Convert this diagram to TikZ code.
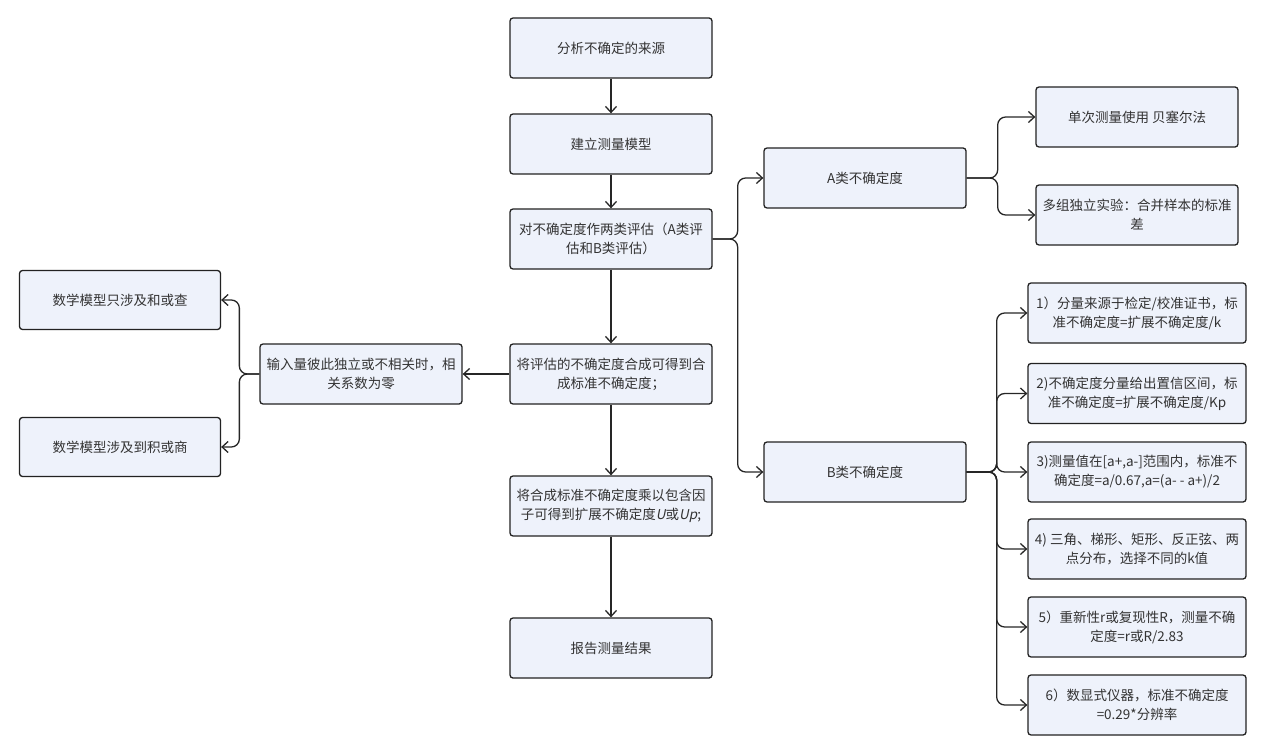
\documentclass[tikz,border=0pt]{standalone}
\usepackage{fontspec}
\setmainfont{Noto Sans CJK SC}
\newfontfamily\slantfont[FakeSlant=0.2]{Noto Sans CJK SC}
\usetikzlibrary{arrows.meta}
\definecolor{boxfill}{HTML}{EEF2FB}
\definecolor{boxline}{HTML}{222222}
\definecolor{textgray}{HTML}{333333}
\tikzset{
	stepbox/.style={draw=boxline,fill=boxfill,line width=1.3pt,rounded corners=3pt,minimum width=202pt,minimum height=60pt,align=center,text=textgray,font=\fontsize{13.5}{19}\selectfont,inner sep=2pt},
	link/.style={draw=black!85,line width=1.3pt,-{Straight Barb[length=6pt,width=11pt]}},
	branch/.style={link,rounded corners=8pt},
}
\begin{document}
\begin{tikzpicture}[x=1pt,y=-1pt]
	\useasboundingbox (0,0) rectangle (1265,754);

	% Draw main steps
	\node[stepbox] (s1) at (611,48) {分析不确定的来源};
	\node[stepbox] (s2) at (611,144) {建立测量模型};
	\node[stepbox] (s3) at (611,239) {对不确定度作两类评估（A类评\\估和B类评估）};
	\node[stepbox] (s4) at (611,374) {将评估的不确定度合成可得到合\\成标准不确定度；};
	\node[stepbox] (s5) at (611,506) {将合成标准不确定度乘以包含因\\子可得到扩展不确定度{\slantfont U}或{\slantfont Up};};
	\node[stepbox] (s6) at (611,648) {报告测量结果};

	% Draw left side
	\node[stepbox] (in) at (361,374) {输入量彼此独立或不相关时，相\\关系数为零};
	\node[stepbox,minimum width=201pt,minimum height=59pt] (l1) at (120,300) {数学模型只涉及和或查};
	\node[stepbox,minimum width=201pt,minimum height=59pt] (l2) at (120,447) {数学模型涉及到积或商};

	% Draw type A and type B
	\node[stepbox] (A) at (865,178) {A类不确定度};
	\node[stepbox] (B) at (865,472) {B类不确定度};
	\node[stepbox] (a1) at (1137,117) {单次测量使用 贝塞尔法};
	\node[stepbox] (a2) at (1137,215) {多组独立实验：合并样本的标准\\差};

	% Type B sources
	\node[stepbox,minimum width=218pt] (b1) at (1137,313) {1）分量来源于检定/校准证书，标\\准不确定度=扩展不确定度/k};
	\node[stepbox,minimum width=218pt] (b2) at (1137,393.5) {2)不确定度分量给出置信区间，标\\准不确定度=扩展不确定度/Kp};
	\node[stepbox,minimum width=218pt] (b3) at (1137,472) {3)测量值在[a+,a-]范围内，标准不\\确定度=a/0.67,a=(a- - a+)/2};
	\node[stepbox,minimum width=218pt] (b4) at (1137,549) {4) 三角、梯形、矩形、反正弦、两\\点分布，选择不同的k值};
	\node[stepbox,minimum width=218pt] (b5) at (1137,627) {5）重新性r或复现性R，测量不确\\定度=r或R/2.83};
	\node[stepbox,minimum width=218pt] (b6) at (1137,705) {6）数显式仪器，标准不确定度\\=0.29*分辨率};

	% Connect main steps
	\draw[link] (s1) -- (s2);
	\draw[link] (s2) -- (s3);
	\draw[link] (s3) -- (s4);
	\draw[link] (s4) -- (s5);
	\draw[link] (s5) -- (s6);
	\draw[link] (s4) -- (in);

	% Branches
	\draw[branch] (in.west) -- ++(-20,0) |- (l1.east);
	\draw[branch] (in.west) -- ++(-20,0) |- (l2.east);
	\draw[branch] (s3.east) -- ++(25,0) |- (A.west);
	\draw[branch] (s3.east) -- ++(25,0) |- (B.west);
	\draw[branch] (A.east) -- ++(31,0) |- (a1.west);
	\draw[branch] (A.east) -- ++(31,0) |- (a2.west);
	\foreach \k in {b1,b2,b3,b4,b5,b6}
		\draw[branch] (B.east) -- ++(30,0) |- (\k.west);
\end{tikzpicture}
\end{document}
